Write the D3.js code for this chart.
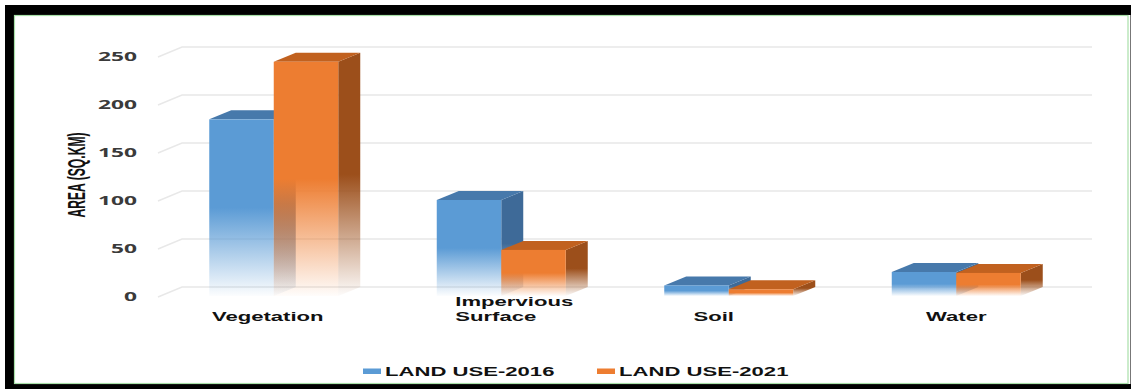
<!DOCTYPE html>
<html>
<head>
<meta charset="utf-8">
<script src="https://cdn.jsdelivr.net/npm/d3@7"></script>
<style>
  html, body { margin: 0; padding: 0; background: #fff; }
  svg { display: block; }
</style>
</head>
<body>
<svg id="chart" width="1131" height="389"></svg>
<script>
// Land-use area by class, two survey years (sq. km)
const categories = ["Vegetation", "Impervious Surface", "Soil", "Water"];
const landUse2016 = [184, 100, 11, 25];
const landUse2021 = [244, 48, 7, 24];
const seriesNames = ["LAND USE-2016", "LAND USE-2021"];
const yTicks = [0, 50, 100, 150, 200, 250];
const axisTitle = "AREA (SQ.KM)";

const svg = d3.select("#chart");

// ---- frame ----
svg.append("rect").attr("x", 0).attr("y", 0).attr("width", 1131).attr("height", 389).attr("fill", "#fff");
svg.append("rect").attr("x", 5).attr("y", 5).attr("width", 1126).attr("height", 10).attr("fill", "#000");
svg.append("rect").attr("x", 5).attr("y", 5).attr("width", 9).attr("height", 384).attr("fill", "#000");
svg.append("rect").attr("x", 5).attr("y", 384).attr("width", 1126).attr("height", 5).attr("fill", "#000");
svg.append("rect").attr("x", 14.5).attr("y", 15.5).attr("width", 1113.5).attr("height", 368)
  .attr("fill", "none").attr("stroke", "#a8e0a8").attr("stroke-width", 1.2);
svg.append("line").attr("x1", 1130.5).attr("x2", 1130.5).attr("y1", 15).attr("y2", 384)
  .attr("stroke", "#777").attr("stroke-width", 1);

// ---- scales ----
const depth = { dx: 22, dy: -9 };
const x0 = d3.scaleBand().domain(categories).range([160, 1070])
  .paddingInner(0.433).paddingOuter(0.2165);
const x1 = d3.scaleBand().domain(seriesNames).range([0, x0.bandwidth()]);
const y = d3.scaleLinear().domain([0, 250]).range([296, 56]);

const series = [
  { name: seriesNames[0], values: landUse2016, front: "#5b9bd5", top: "#4779ab", side: "#3e6a98" },
  { name: seriesNames[1], values: landUse2021, front: "#ed7d31", top: "#c1611f", side: "#9c4f1b" }
];

// ---- fading gradients (solid at top half, fading toward the floor) ----
const defs = svg.append("defs");
series.forEach((s, i) => {
  ["front", "side"].forEach(face => {
    const g = defs.append("linearGradient").attr("id", `fade-${i}-${face}`)
      .attr("x1", 0).attr("y1", 0).attr("x2", 0).attr("y2", 1);
    g.append("stop").attr("offset", 0).attr("stop-color", s[face]).attr("stop-opacity", 1);
    g.append("stop").attr("offset", 0.5).attr("stop-color", s[face]).attr("stop-opacity", 1);
    g.append("stop").attr("offset", 1).attr("stop-color", s[face]).attr("stop-opacity", 0.02);
  });
});

// ---- back wall gridlines with side-wall segment ----
const [xL, xR] = x0.range();
const grid = svg.append("g");
yTicks.forEach(t => {
  const yf = y(t);
  grid.append("path")
    .attr("d", `M${xL - 2},${yf + 1} L${xL + depth.dx},${yf + depth.dy} L${xR + depth.dx},${yf + depth.dy}`)
    .attr("fill", "none").attr("stroke", "#e8e8e8").attr("stroke-width", 1.5);
});

// ---- tick labels ----
const tickG = svg.append("g");
yTicks.forEach(t => {
  tickG.append("text")
    .attr("transform", `translate(137,${y(t)}) scale(1.75,1)`)
    .attr("text-anchor", "end").attr("dominant-baseline", "central")
    .style("font-family", "'Open Sans', sans-serif").style("font-weight", 700)
    .style("font-size", "13px").attr("fill", "#3a3a3a")
    .text(t);
});

// ---- axis title ----
svg.append("text")
  .attr("transform", "translate(76,175) scale(1.7,1) rotate(-90)")
  .attr("text-anchor", "middle").attr("dominant-baseline", "central")
  .style("font-family", "'Liberation Sans', Arial, sans-serif").style("font-weight", 700)
  .style("font-size", "14.5px").attr("fill", "#111")
  .attr("textLength", 85).attr("lengthAdjust", "spacingAndGlyphs")
  .text(axisTitle);

// ---- 3D columns ----
const bars = svg.append("g");
const y0 = y(0);
categories.forEach((cat, ci) => {
  series.forEach((s, si) => {
    const v = s.values[ci];
    const xl = x0(cat) + x1(s.name);
    const xr = xl + x1.bandwidth();
    const yt = y(v);
    const g = bars.append("g");
    // right side face
    g.append("path")
      .attr("d", `M${xr},${yt} L${xr + depth.dx},${yt + depth.dy} L${xr + depth.dx},${y0 + depth.dy} L${xr},${y0} Z`)
      .attr("fill", `url(#fade-${si}-side)`);
    // top face
    g.append("path")
      .attr("d", `M${xl},${yt} L${xl + depth.dx},${yt + depth.dy} L${xr + depth.dx},${yt + depth.dy} L${xr},${yt} Z`)
      .attr("fill", s.top);
    // front face
    g.append("rect")
      .attr("x", xl).attr("y", yt).attr("width", x1.bandwidth()).attr("height", y0 - yt)
      .attr("fill", `url(#fade-${si}-front)`);
  });
});

// ---- category labels ----
const labelNudge = { "Vegetation": -6, "Impervious Surface": 13, "Soil": -15, "Water": 0 };
const catG = svg.append("g")
  .style("font-family", "'Liberation Sans', Arial, sans-serif").style("font-weight", 700)
  .style("font-size", "13px").attr("fill", "#111");
categories.forEach(cat => {
  const cx = x0(cat) + x0.bandwidth() / 2 + labelNudge[cat];
  const words = cat.split(" ");
  if (words.length === 1) {
    catG.append("text")
      .attr("transform", `translate(${cx},321) scale(1.7,1)`)
      .attr("text-anchor", "middle").text(cat);
  } else {
    // wrapped label: lines share a left edge, block centred on the column group
    const probe = catG.append("text").text(words[0]);
    const maxW = d3.max(words, w => { probe.text(w); return probe.node().getComputedTextLength(); }) * 1.7;
    probe.remove();
    const left = cx - maxW / 2;
    words.forEach((w, wi) => {
      catG.append("text")
        .attr("transform", `translate(${left},${306 + wi * 14.5}) scale(1.7,1)`)
        .attr("text-anchor", "start").text(w);
    });
  }
});

// ---- legend ----
const legend = svg.append("g")
  .style("font-family", "'Liberation Sans', Arial, sans-serif").style("font-weight", 700)
  .style("font-size", "13px").attr("fill", "#111");
const legendX = [363, 597];
series.forEach((s, i) => {
  legend.append("rect").attr("x", legendX[i]).attr("y", 368.5).attr("width", 18).attr("height", 5.5)
    .attr("fill", s.front);
  legend.append("text")
    .attr("transform", `translate(${legendX[i] + 22},376) scale(1.7,1)`)
    .text(s.name);
});
</script>
</body>
</html>
